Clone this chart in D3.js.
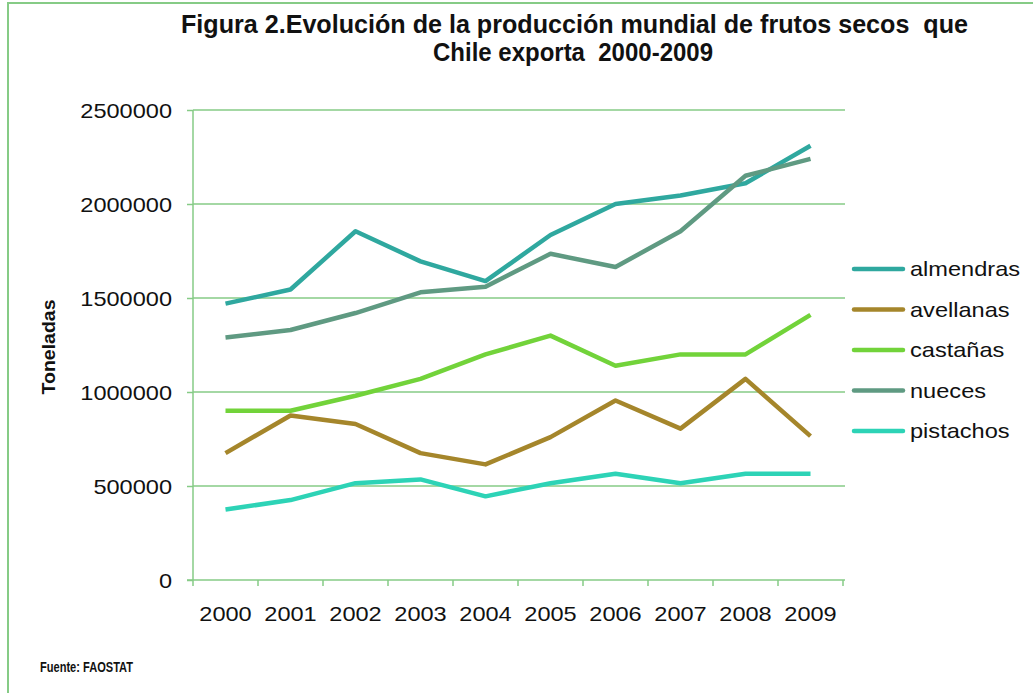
<!DOCTYPE html>
<html>
<head>
<meta charset="utf-8">
<script src="https://cdn.jsdelivr.net/npm/d3@7"></script>
<style>
  body { margin: 0; background: #fff; }
  svg { display: block; font-family: "Liberation Sans", Arial, sans-serif; }
</style>
</head>
<body>
<svg id="chart" width="1033" height="693"></svg>
<script>
// data
const years = ["2000", "2001", "2002", "2003", "2004", "2005", "2006", "2007", "2008", "2009"];
const almendras = [1470000, 1545000, 1855000, 1695000, 1590000, 1835000, 2000000, 2045000, 2110000, 2310000];
const avellanas = [675000, 875000, 830000, 675000, 615000, 760000, 955000, 805000, 1070000, 765000];
const castanas = [900000, 900000, 980000, 1070000, 1200000, 1300000, 1140000, 1200000, 1200000, 1410000];
const nueces = [1290000, 1330000, 1420000, 1530000, 1560000, 1735000, 1665000, 1855000, 2150000, 2240000];
const pistachos = [375000, 425000, 515000, 535000, 445000, 515000, 565000, 515000, 565000, 565000];
const seriesNames = ["almendras", "avellanas", "castañas", "nueces", "pistachos"];
const yTicks = [0, 500000, 1000000, 1500000, 2000000, 2500000];

const series = [almendras, avellanas, castanas, nueces, pistachos].map((vals, i) => ({
  name: seriesNames[i],
  values: vals.map((v, j) => ({ year: years[j], value: v })),
}));
const colors = ["#2fa89f", "#a5862b", "#72d33a", "#5f9a82", "#2dd3b6"];
const gridColor = "#86cb86";
const digitW = 13.1; // the picture's numbers are a bit wide

const svg = d3.select("#chart");

// outer frame
svg.append("rect")
  .attr("x", 8).attr("y", 3)
  .attr("width", 1040).attr("height", 700)
  .attr("fill", "none")
  .attr("stroke", gridColor)
  .attr("stroke-width", 2);

const x = d3.scaleBand().domain(years).range([193, 843]);
const y = d3.scaleLinear().domain([0, 2500000]).range([580, 110]);

// gridlines
svg.append("g")
  .selectAll("line")
  .data(yTicks.filter((d) => d > 0))
  .join("line")
  .attr("x1", 193).attr("x2", 845)
  .attr("y1", (d) => y(d)).attr("y2", (d) => y(d))
  .attr("stroke", gridColor)
  .attr("stroke-width", 1.5);

// y axis
const yAxis = svg.append("g")
  .attr("transform", "translate(193,0)")
  .call(d3.axisLeft(y).tickValues(yTicks).tickSize(6).tickPadding(15).tickFormat(d3.format("d")));
yAxis.select(".domain").attr("stroke", gridColor).attr("stroke-width", 1.5).attr("d", "M0,110V580");
yAxis.selectAll(".tick line").attr("stroke", gridColor).attr("stroke-width", 1.5);
yAxis.selectAll(".tick text")
  .style("font-size", "21px")
  .attr("fill", "#111")
  .attr("dy", "0.36em")
  .attr("textLength", (d) => String(d).length * digitW)
  .attr("lengthAdjust", "spacingAndGlyphs");

// x axis
const xAxis = svg.append("g")
  .attr("transform", "translate(0,580)")
  .call(d3.axisBottom(x).tickSize(0).tickPadding(26));
xAxis.select(".domain").attr("stroke", gridColor).attr("stroke-width", 1.5).attr("d", "M187,0H845");
xAxis.selectAll(".tick text")
  .style("font-size", "21px")
  .attr("fill", "#111")
  .attr("textLength", 4 * digitW)
  .attr("lengthAdjust", "spacingAndGlyphs");
xAxis.append("g")
  .selectAll("line")
  .data(years.concat(["end"]))
  .join("line")
  .attr("x1", (d, i) => 193 + i * x.step())
  .attr("x2", (d, i) => 193 + i * x.step())
  .attr("y1", 0).attr("y2", 6)
  .attr("stroke", gridColor)
  .attr("stroke-width", 1.5);

// lines
const line = d3.line()
  .x((d) => x(d.year) + x.bandwidth() / 2)
  .y((d) => y(d.value));

svg.append("g")
  .selectAll("path")
  .data(series)
  .join("path")
  .attr("d", (d) => line(d.values))
  .attr("fill", "none")
  .attr("stroke", (d, i) => colors[i])
  .attr("stroke-width", 4.5)
  .attr("stroke-linejoin", "round");

// legend
const legend = svg.append("g");
series.forEach((s, i) => {
  const ly = 269 + i * 40.5;
  legend.append("line")
    .attr("x1", 854).attr("x2", 903)
    .attr("y1", ly).attr("y2", ly)
    .attr("stroke", colors[i])
    .attr("stroke-width", 4.5)
    .attr("stroke-linecap", "round");
  legend.append("text")
    .attr("transform", `translate(910,${ly}) scale(1.18,1)`)
    .attr("dy", "0.35em")
    .style("font-size", "20px")
    .attr("fill", "#111")
    .text(s.name);
});

// title (the doubled spaces are in the original)
const title = svg.append("g")
  .style("font-weight", "bold")
  .style("font-size", "25px")
  .attr("fill", "#111");
title.append("text")
  .attr("x", 181).attr("y", 33)
  .attr("textLength", 787).attr("lengthAdjust", "spacingAndGlyphs")
  .text("Figura 2.Evolución de la producción mundial de frutos secos \u00a0que");
title.append("text")
  .attr("x", 433).attr("y", 61)
  .attr("textLength", 280).attr("lengthAdjust", "spacingAndGlyphs")
  .text("Chile exporta \u00a02000-2009");

// y axis title
svg.append("text")
  .attr("transform", "translate(55,347) rotate(-90)")
  .attr("text-anchor", "middle")
  .style("font-weight", "bold")
  .style("font-size", "19px")
  .attr("fill", "#111")
  .attr("textLength", 95).attr("lengthAdjust", "spacingAndGlyphs")
  .text("Toneladas");

// source
svg.append("text")
  .attr("x", 40).attr("y", 672)
  .style("font-weight", "bold")
  .style("font-size", "14px")
  .attr("fill", "#111")
  .attr("textLength", 93).attr("lengthAdjust", "spacingAndGlyphs")
  .text("Fuente: FAOSTAT");
</script>
</body>
</html>
